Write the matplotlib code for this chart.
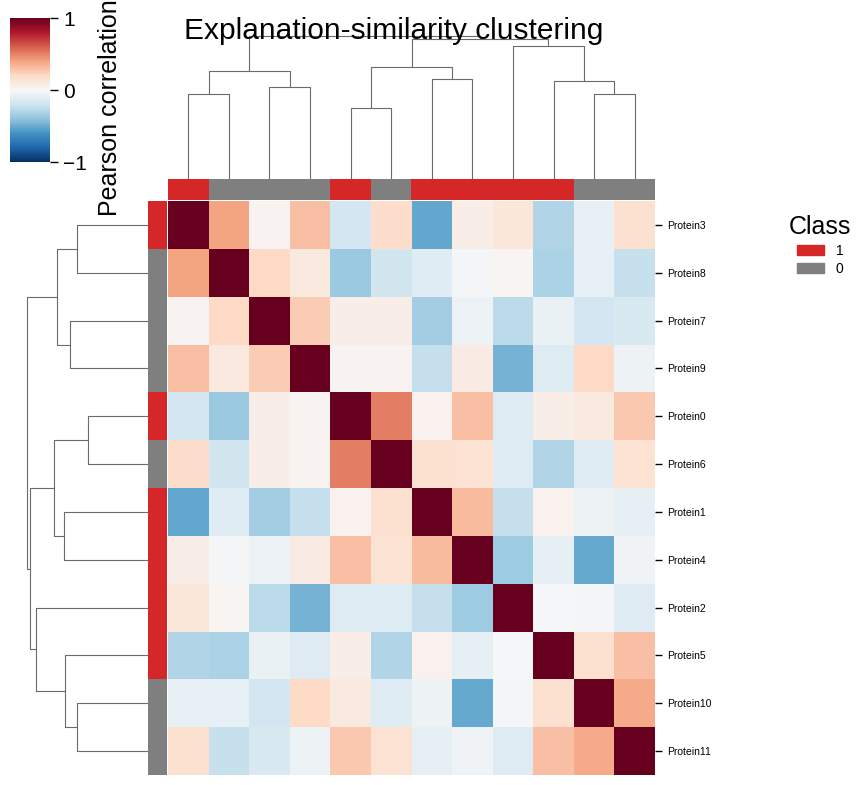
import numpy as np
import matplotlib
matplotlib.use("Agg")
import matplotlib.pyplot as plt
from matplotlib.patches import Patch

plt.rcParams['font.family'] = ['Liberation Sans', 'DejaVu Sans']

W, H = 866, 785                      # figure size in px (dpi 100)

# leaves in clustered order
PROTEINS = ["Protein3", "Protein8", "Protein7", "Protein9", "Protein0", "Protein6",
            "Protein1", "Protein4", "Protein2", "Protein5", "Protein10", "Protein11"]
CLASSES = [1, 0, 0, 0, 1, 0, 1, 1, 1, 1, 0, 0]
CLASS_COLORS = {1: "#d62728", 0: "#7f7f7f"}

# Pearson correlation between explanations (clustered order)
CORR = [
    [1.00, 0.40, 0.03, 0.30, -0.18, 0.18, -0.52, 0.07, 0.12, -0.30, -0.08, 0.16],
    [0.40, 1.00, 0.20, 0.10, -0.37, -0.19, -0.12, -0.02, 0.02, -0.32, -0.08, -0.23],
    [0.03, 0.20, 1.00, 0.25, 0.07, 0.07, -0.35, -0.06, -0.27, -0.07, -0.18, -0.16],
    [0.30, 0.10, 0.25, 1.00, 0.03, 0.03, -0.24, 0.08, -0.47, -0.13, 0.20, -0.05],
    [-0.18, -0.37, 0.07, 0.03, 1.00, 0.51, 0.04, 0.30, -0.13, 0.07, 0.10, 0.27],
    [0.18, -0.19, 0.07, 0.03, 0.51, 1.00, 0.16, 0.15, -0.14, -0.30, -0.12, 0.15],
    [-0.52, -0.12, -0.35, -0.24, 0.04, 0.16, 1.00, 0.32, -0.24, 0.04, -0.05, -0.09],
    [0.07, -0.02, -0.06, 0.08, 0.30, 0.15, 0.32, 1.00, -0.36, -0.09, -0.51, -0.04],
    [0.12, 0.02, -0.27, -0.47, -0.13, -0.14, -0.24, -0.36, 1.00, -0.01, -0.02, -0.13],
    [-0.30, -0.32, -0.07, -0.13, 0.07, -0.30, 0.04, -0.09, -0.01, 1.00, 0.16, 0.30],
    [-0.08, -0.08, -0.18, 0.20, 0.10, -0.12, -0.05, -0.51, -0.02, 0.16, 1.00, 0.38],
    [0.16, -0.23, -0.16, -0.05, 0.27, 0.15, -0.09, -0.04, -0.13, 0.30, 0.38, 1.00],
]

# linkage: (child a, child b, height); leaf ids 0..11, merges get ids 12, 13, ...
LINKAGE = [
    (0, 1, 1.41), (2, 3, 1.53), (12, 13, 1.80),
    (4, 5, 1.18), (6, 7, 1.66), (15, 16, 1.86),
    (10, 11, 1.41), (9, 18, 1.63), (8, 19, 2.21),
    (17, 20, 2.33), (14, 21, 2.38),
]


def px_axes(fig, x0, y0, x1, y1):
    """add axes from pixel box (top-left origin)"""
    return fig.add_axes([x0 / W, 1 - y1 / H, (x1 - x0) / W, (y1 - y0) / H])


def dendro_segments(linkage, n):
    """U-shaped segments as (pos_a, h_a, pos_b, h_b, h) per merge"""
    pos = {i: i + 0.5 for i in range(n)}
    hgt = {i: 0.0 for i in range(n)}
    segs = []
    for k, (a, b, h) in enumerate(linkage):
        segs.append((pos[a], hgt[a], pos[b], hgt[b], h))
        pos[n + k] = (pos[a] + pos[b]) / 2
        hgt[n + k] = h
    return segs


n = len(PROTEINS)
data = np.array(CORR)
segs = dendro_segments(LINKAGE, n)
hmax = max(h for _, _, _, _, h in segs) * 1.05
line_kw = dict(color="0.42", lw=0.8)

fig = plt.figure(figsize=(W / 100, H / 100), dpi=100)

# heatmap
ax = px_axes(fig, 168, 201, 655, 775)
ax.pcolormesh(data, cmap="RdBu_r", vmin=-1, vmax=1)
ax.set_xlim(0, n)
ax.set_ylim(n, 0)
ax.set_xticks([])
ax.set_yticks(np.arange(n) + 0.5)
ax.set_yticklabels(PROTEINS, fontsize=7.5)
ax.yaxis.tick_right()
ax.tick_params(axis="y", length=5, width=1, pad=3.5)
for s in ax.spines.values():
    s.set_visible(False)

# class colour strips
cls_rgb = np.array([matplotlib.colors.to_rgb(CLASS_COLORS[c]) for c in CLASSES])
ax_cc = px_axes(fig, 168, 179, 655, 200)
ax_cc.imshow(cls_rgb[None, :, :], aspect="auto", extent=(0, n, 1, 0))
ax_cc.set_axis_off()
ax_rc = px_axes(fig, 148, 201, 167, 775)
ax_rc.imshow(cls_rgb[:, None, :], aspect="auto", extent=(0, 1, n, 0))
ax_rc.set_axis_off()

# column dendrogram
ax_cd = px_axes(fig, 168, 29, 655, 179)
for xa, ha, xb, hb, h in segs:
    ax_cd.plot([xa, xa, xb, xb], [ha, h, h, hb], **line_kw)
ax_cd.set_xlim(0, n)
ax_cd.set_ylim(0, hmax)
ax_cd.set_axis_off()

# row dendrogram
ax_rd = px_axes(fig, 21.4, 201, 148, 775)
for ya, ha, yb, hb, h in segs:
    ax_rd.plot([ha, h, h, hb], [ya, ya, yb, yb], **line_kw)
ax_rd.set_xlim(hmax, 0)
ax_rd.set_ylim(n, 0)
ax_rd.set_axis_off()

# colourbar
cax = px_axes(fig, 10, 18, 50, 162)
sm = plt.cm.ScalarMappable(cmap="RdBu_r", norm=plt.Normalize(-1, 1))
cb = fig.colorbar(sm, cax=cax, ticks=[-1, 0, 1])
cb.outline.set_visible(False)
cb.ax.tick_params(labelsize=15, length=6, width=1)
cb.set_label("Pearson correlation", fontsize=18, labelpad=8)
cb.ax.yaxis.label.set_y(0.38)   # label runs off the top edge, as in the original

# legend
handles = [Patch(color=CLASS_COLORS[1]), Patch(color=CLASS_COLORS[0])]
fig.legend(handles, ["1", "0"], title="Class", loc="upper center",
           bbox_to_anchor=(820 / W, 1 - 203 / H), frameon=False,
           fontsize=10, title_fontsize=18, handlelength=2.0, handleheight=0.7,
           labelspacing=0.3)

fig.text(394 / W, 1 - 39 / H, "Explanation-similarity clustering",
         fontsize=21.5, ha="center", va="baseline")

fig.savefig("out.png", dpi=100)
